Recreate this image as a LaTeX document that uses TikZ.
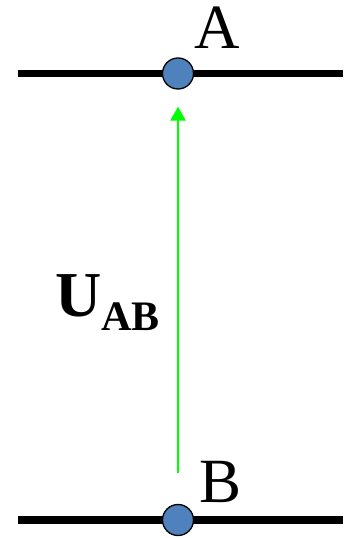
\documentclass[tikz,border=0pt]{standalone}
\usepackage{fontspec}
\setmainfont{Liberation Serif}
\usepackage{xcolor}
\usetikzlibrary{arrows.meta,positioning}
\definecolor{dotBlue}{RGB}{79,129,189}
\definecolor{voltGreen}{RGB}{0,255,0}
\begin{document}
\begin{tikzpicture}[x=1pt,y=1pt,
  wire/.style={line width=7.5pt},
  dot/.style={circle, draw=black, line width=1.3pt, fill=dotBlue,
              minimum size=31pt, inner sep=0pt},
  lbl/.style={inner sep=0pt, anchor=base west, font=\fontsize{63}{63}\selectfont},
  arr/.style={-{Triangle[length=14pt,width=15pt]}, line width=2.7pt, voltGreen}
]
  \useasboundingbox (0,0) rectangle (343,538);

  % the two conductors
  \draw[wire] (18,464.5) -- (343,464.5);
  \draw[wire] (18,18) -- (343,18);

  \node[dot] (dotA) at (178,464.5) {};
  \node[dot] (dotB) at (178,18) {};

  \node[lbl] (labA) at (194,489) {A};
  \node[lbl] (labB) at (199,35) {B};

  % voltage arrow
  \draw[arr, shorten <=31pt, shorten >=17pt] (dotB) -- (dotA);
  \node[inner sep=0pt, anchor=base west] (volt) at (55,221)
    {\fontsize{64}{64}\selectfont\bfseries U\raisebox{-14pt}{\fontsize{42}{42}\selectfont AB}};
\end{tikzpicture}
\end{document}
